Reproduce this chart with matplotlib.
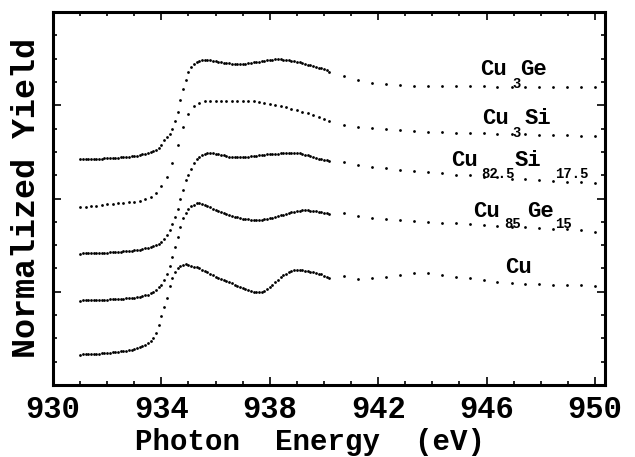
import numpy as np
import matplotlib
matplotlib.use("Agg")
from matplotlib import pyplot as plt
from matplotlib.ticker import MultipleLocator, NullFormatter

# photon energies (eV) of the measured points
energy = np.round(np.arange(931.0, 940.25, 0.1), 1)       # fine scan
energy_coarse = np.round(np.arange(931.0, 940.25, 0.2), 1)  # Cu3Si scan
energy_tail = [940.75, 941.26, 941.78, 942.29, 942.81, 943.32, 943.83, 944.35,
               944.86, 945.38, 945.89, 946.40, 946.92, 947.43, 947.95, 948.46,
               948.97, 949.49, 950.00]
xticks = [930, 934, 938, 942, 946, 950]

# normalized yield, stacked (bottom -> top)
cu = [0.305, 0.307, 0.308, 0.310, 0.310, 0.312, 0.314, 0.315, 0.318, 0.320,
      0.322, 0.325, 0.327, 0.330, 0.333, 0.336, 0.340, 0.344, 0.348, 0.354,
      0.360, 0.367, 0.376, 0.387, 0.400, 0.425, 0.445, 0.475, 0.520, 0.605,
      0.690, 0.785, 0.870, 0.990, 1.070, 1.130, 1.170, 1.193, 1.205, 1.207,
      1.202, 1.193, 1.185, 1.177, 1.168, 1.155, 1.140, 1.128, 1.115, 1.100,
      1.085, 1.075, 1.065, 1.055, 1.040, 1.030, 1.020, 1.005, 0.995, 0.985,
      0.975, 0.965, 0.955, 0.945, 0.935, 0.930, 0.928, 0.930, 0.942, 0.960,
      0.980, 1.005, 1.030, 1.055, 1.077, 1.097, 1.115, 1.130, 1.142, 1.148,
      1.150, 1.150, 1.148, 1.145, 1.140, 1.135, 1.128, 1.122, 1.115, 1.106,
      1.095, 1.082, 1.070]
cu85ge15 = [0.845, 0.846, 0.847, 0.848, 0.849, 0.850, 0.851, 0.852, 0.853, 0.854,
            0.855, 0.856, 0.857, 0.858, 0.860, 0.862, 0.864, 0.866, 0.868, 0.870,
            0.873, 0.877, 0.882, 0.889, 0.897, 0.905, 0.918, 0.935, 0.955, 0.977,
            1.005, 1.055, 1.110, 1.190, 1.280, 1.380, 1.480, 1.580, 1.670, 1.725,
            1.760, 1.787, 1.805, 1.816, 1.818, 1.812, 1.802, 1.790, 1.778, 1.765,
            1.753, 1.743, 1.734, 1.724, 1.713, 1.703, 1.692, 1.683, 1.676, 1.669,
            1.663, 1.659, 1.656, 1.653, 1.651, 1.650, 1.650, 1.652, 1.656, 1.661,
            1.667, 1.674, 1.681, 1.689, 1.697, 1.705, 1.712, 1.719, 1.726, 1.732,
            1.737, 1.742, 1.746, 1.748, 1.747, 1.745, 1.741, 1.737, 1.733, 1.729,
            1.725, 1.718, 1.710]
cu825si175 = [1.315, 1.316, 1.317, 1.318, 1.319, 1.320, 1.321, 1.322, 1.323, 1.324,
              1.325, 1.326, 1.328, 1.330, 1.332, 1.334, 1.336, 1.338, 1.340, 1.343,
              1.346, 1.350, 1.355, 1.361, 1.368, 1.375, 1.380, 1.388, 1.397, 1.412,
              1.435, 1.460, 1.500, 1.550, 1.610, 1.685, 1.765, 1.860, 1.955, 2.050,
              2.105, 2.165, 2.220, 2.260, 2.285, 2.300, 2.312, 2.318, 2.320, 2.318,
              2.314, 2.308, 2.302, 2.296, 2.290, 2.285, 2.281, 2.278, 2.277, 2.278,
              2.280, 2.282, 2.284, 2.287, 2.290, 2.294, 2.297, 2.300, 2.303, 2.306,
              2.309, 2.311, 2.313, 2.315, 2.317, 2.319, 2.320, 2.321, 2.322, 2.322,
              2.320, 2.316, 2.310, 2.303, 2.296, 2.288, 2.280, 2.272, 2.265, 2.258,
              2.252, 2.247, 2.242]
cu3si = [1.785, 1.785, 1.790, 1.795, 1.802, 1.810, 1.815, 1.820, 1.825, 1.830,
         1.835, 1.845, 1.860, 1.885, 1.920, 1.990, 2.085, 2.220, 2.400, 2.580,
         2.710, 2.795, 2.825, 2.837, 2.840, 2.840, 2.842, 2.842, 2.840, 2.840,
         2.838, 2.840, 2.840, 2.832, 2.820, 2.810, 2.800, 2.790, 2.780, 2.765,
         2.750, 2.735, 2.722, 2.705, 2.685, 2.662, 2.640]
cu3ge = [2.257, 2.258, 2.259, 2.260, 2.261, 2.262, 2.263, 2.264, 2.265, 2.267,
         2.268, 2.270, 2.271, 2.273, 2.275, 2.277, 2.279, 2.281, 2.284, 2.287,
         2.290, 2.294, 2.299, 2.305, 2.312, 2.320, 2.330, 2.340, 2.352, 2.375,
         2.400, 2.450, 2.480, 2.510, 2.560, 2.640, 2.730, 2.850, 2.965, 3.055,
         3.135, 3.180, 3.210, 3.230, 3.243, 3.250, 3.254, 3.254, 3.248, 3.242,
         3.236, 3.230, 3.226, 3.222, 3.218, 3.216, 3.214, 3.212, 3.210, 3.210,
         3.212, 3.215, 3.218, 3.222, 3.226, 3.230, 3.235, 3.240, 3.245, 3.249,
         3.252, 3.255, 3.257, 3.258, 3.257, 3.255, 3.252, 3.248, 3.244, 3.240,
         3.234, 3.226, 3.219, 3.212, 3.204, 3.196, 3.189, 3.182, 3.174, 3.166,
         3.158, 3.147, 3.135]

# sparse points above 940.5 eV
cu_tail = [1.095, 1.065, 1.070, 1.080, 1.105, 1.120, 1.120, 1.100, 1.080, 1.070,
           1.050, 1.035, 1.020, 1.015, 1.010, 1.005, 1.000, 1.000, 0.995]
cu85ge15_tail = [1.723, 1.690, 1.673, 1.660, 1.650, 1.640, 1.633, 1.623, 1.617, 1.607,
                 1.600, 1.590, 1.583, 1.577, 1.570, 1.563, 1.557, 1.550, 1.533]
cu825si175_tail = [2.230, 2.200, 2.185, 2.170, 2.155, 2.140, 2.130, 2.115, 2.105, 2.095,
                   2.085, 2.075, 2.065, 2.057, 2.050, 2.042, 2.035, 2.028, 2.020]
cu3si_tail = [2.600, 2.585, 2.570, 2.560, 2.550, 2.542, 2.535, 2.530, 2.525, 2.520,
              2.517, 2.513, 2.510, 2.507, 2.504, 2.501, 2.498, 2.495, 2.492]
cu3ge_tail = [3.090, 3.050, 3.023, 3.007, 3.000, 2.995, 2.992, 2.990, 2.988, 2.987,
              2.986, 2.985, 2.984, 2.984, 2.983, 2.983, 2.983, 2.983, 2.983]

mono = ['Liberation Mono', 'DejaVu Sans Mono']
plt.rcParams['font.family'] = mono
plt.rcParams['font.weight'] = 'bold'

fig = plt.figure(figsize=(6.35, 4.57), dpi=100)
ax = fig.add_axes([53 / 635, 72 / 457, 552 / 635, 373 / 457])

dot = dict(ls='none', marker='o', ms=2.0, mew=0, color='black')
ax.plot(energy, cu, **dot)
ax.plot(energy, cu85ge15, **dot)
ax.plot(energy, cu825si175, **dot)
ax.plot(energy_coarse, cu3si, **dot)
ax.plot(energy, cu3ge, **dot)
for tail in [cu_tail, cu85ge15_tail, cu825si175_tail, cu3si_tail, cu3ge_tail]:
    ax.plot(energy_tail, tail, **dot)

# compound labels: (text, x, y, subscript?)
labels = [
    [("Cu", 945.76, 3.10, False), ("3", 946.94, 2.975, True), ("Ge", 947.23, 3.10, False)],
    [("Cu", 945.83, 2.61, False), ("3", 946.97, 2.48, True), ("Si", 947.42, 2.61, False)],
    [("Cu", 944.69, 2.19, False), ("82.5", 945.79, 2.07, True), ("Si", 947.05, 2.19, False),
     ("17.5", 948.52, 2.07, True)],
    [("Cu", 945.50, 1.68, False), ("85", 946.64, 1.57, True), ("Ge", 947.49, 1.68, False),
     ("15", 948.52, 1.57, True)],
    [("Cu", 946.68, 1.12, False)],
]
for parts in labels:
    for txt, x, y, sub in parts:
        ax.text(x, y, txt, fontsize=10 if sub else 16, fontweight='bold',
                ha='left', va='baseline')

ax.set_xlim(930, 950.37)
ax.set_ylim(0, 3.73)
ax.set_xticks(xticks)
ax.xaxis.set_minor_locator(MultipleLocator(1))
ax.yaxis.set_major_locator(MultipleLocator(3.73 / 4))
ax.yaxis.set_minor_locator(MultipleLocator(3.73 / 16))
ax.yaxis.set_major_formatter(NullFormatter())
ax.tick_params(which='both', direction='in', top=True, right=True, width=1.2)
ax.tick_params(which='major', length=6, pad=7, labelsize=22)
ax.tick_params(which='minor', length=3)
for s in ax.spines.values():
    s.set_linewidth(2.2)

ax.set_xlabel('Photon  Energy  (eV)', fontsize=21, fontweight='bold')
ax.xaxis.set_label_coords(0.466, -0.115)
ax.set_ylabel('Normalized Yield', fontsize=24, fontweight='bold')
ax.yaxis.set_label_coords(-0.02, 0.5)

fig.savefig('out.png', dpi=100)
